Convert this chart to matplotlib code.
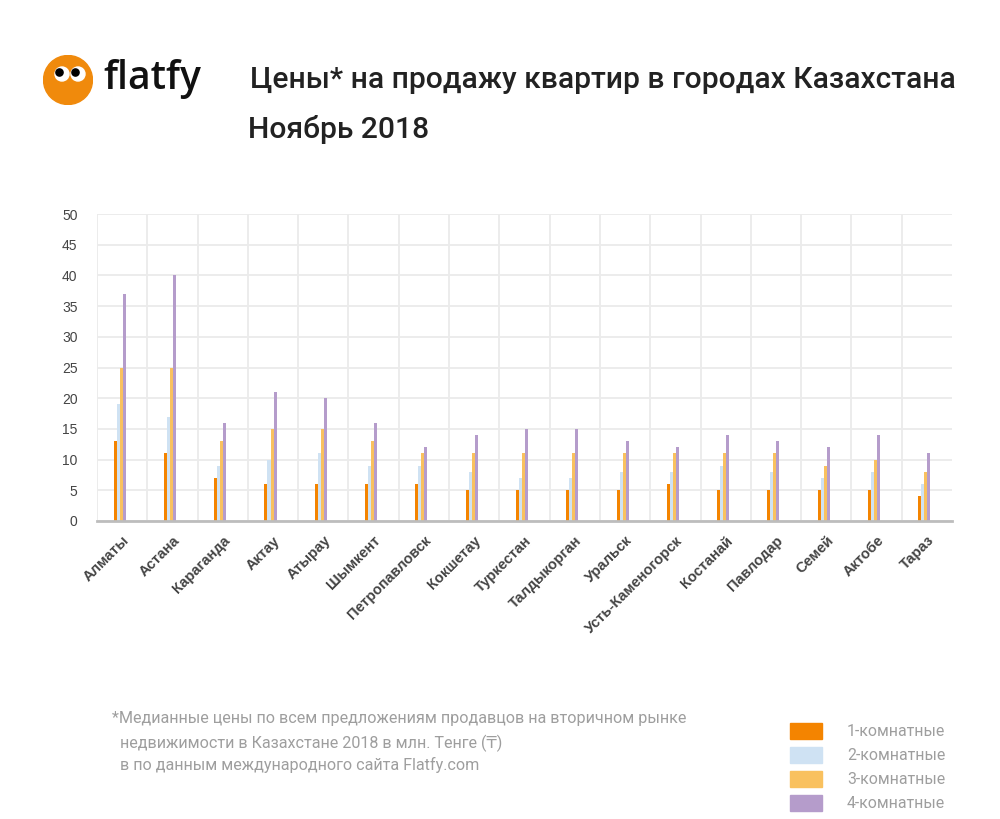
import numpy as np
import matplotlib
matplotlib.use("Agg")
import matplotlib.pyplot as plt
from matplotlib.patches import Circle, Rectangle

cities = ["Алматы", "Астана", "Караганда", "Актау", "Атырау", "Шымкент",
          "Петропавловск", "Кокшетау", "Туркестан", "Талдыкорган", "Уральск",
          "Усть-Каменогорск", "Костанай", "Павлодар", "Семей", "Актобе", "Тараз"]
room1 = [13, 11, 7, 6, 6, 6, 6, 5, 5, 5, 5, 6, 5, 5, 5, 5, 4]
room2 = [19, 17, 9, 10, 11, 9, 9, 8, 7, 7, 8, 8, 9, 8, 7, 8, 6]
room3 = [25, 25, 13, 15, 15, 13, 11, 11, 11, 11, 11, 11, 11, 11, 9, 10, 8]
room4 = [37, 40, 16, 21, 20, 16, 12, 14, 15, 15, 13, 12, 14, 13, 12, 14, 11]
series_names = ["1-комнатные", "2-комнатные", "3-комнатные", "4-комнатные"]
yticks = [0, 5, 10, 15, 20, 25, 30, 35, 40, 45, 50]

colors = ["#f48400", "#cfe2f3", "#f9c15f", "#b59ccb"]
gray_text = "#9e9e9e"

W, H = 1000, 819
fig = plt.figure(figsize=(W / 100, H / 100), dpi=100)

def fx(px):
    return px / W

def fy(py):
    return 1 - py / H

# main chart
ax = fig.add_axes([fx(97), fy(521), fx(952) - fx(97), fy(214) - fy(521)])
x = np.arange(len(cities))
w = 0.06
shift = -0.05
for i, (vals, c) in enumerate(zip([room1, room2, room3, room4], colors)):
    ax.bar(x + shift + (i - 1.5) * w, vals, width=w, color=c, linewidth=0, zorder=3)

ax.set_xlim(-0.5, len(cities) - 0.5)
ax.set_ylim(0, 50)
ax.set_yticks(yticks)
ax.set_yticklabels([str(v) for v in yticks], fontsize=10, color="#444444",
                   family="Liberation Sans")
ax.set_xticks(x)
ax.set_xticklabels(cities, rotation=45, ha="right", rotation_mode="anchor",
                   fontsize=10.5, fontweight="bold", color="#444444",
                   family="Liberation Sans")
ax.set_xticks(np.arange(-0.5, len(cities) - 1), minor=True)
ax.tick_params(axis="both", which="both", length=0)
ax.tick_params(axis="y", pad=14)
ax.tick_params(axis="x", pad=9)
ax.grid(axis="y", which="major", color="#ebebeb", lw=1.3, zorder=0)
ax.grid(axis="x", which="minor", color="#ebebeb", lw=1.3, zorder=0)
for s in ["top", "right", "left"]:
    ax.spines[s].set_visible(False)
ax.spines["bottom"].set_color("#bdbdbd")
ax.spines["bottom"].set_linewidth(2)
ax.spines["bottom"].set_zorder(4)

# logo
lax = fig.add_axes([fx(43), fy(105), 50 / W, 50 / H])
lax.set_xlim(0, 50)
lax.set_ylim(50, 0)
lax.axis("off")
lax.add_patch(Circle((25, 25), 24.5, color="#f08a0c"))
for ex, px in [(19, 16.5), (35, 32.5)]:
    lax.add_patch(Circle((ex, 19), 7, color="white"))
    lax.add_patch(Circle((px, 17.5), 3.6, color="black"))
fig.text(fx(103), fy(79), "flatfy", fontsize=28, color="#111111",
         family="Open Sans", fontweight="semibold", va="center", ha="left")

# titles
fig.text(fx(250), fy(80), "Цены* на продажу квартир в городах Казахстана",
         fontsize=21.6, color="#222222", family="Roboto", fontweight="medium",
         va="center", ha="left")
fig.text(fx(248), fy(130), "Ноябрь 2018", fontsize=21.6, color="#222222",
         family="Roboto", fontweight="medium", va="center", ha="left")

# footnote
notes = ["*Медианные цены по всем предложениям продавцов на вторичном рынке",
         "  недвижимости в Казахстане 2018 в млн. Тенге (₸)",
         "  в по данным международного сайта Flatfy.com"]
for line, yy in zip(notes, [719, 743, 765]):
    fig.text(fx(112), fy(yy), line, fontsize=11.6, color=gray_text,
             family=["Roboto", "DejaVu Sans"], va="center", ha="left")

# legend
for name, c, yy in zip(series_names, colors, [731, 755, 779, 803]):
    fig.patches.append(Rectangle((fx(790), fy(yy + 8)), 32 / W, 16 / H,
                                 transform=fig.transFigure, color=c))
    fig.text(fx(847), fy(yy), name, fontsize=11.4, color=gray_text,
             family="Roboto", va="center", ha="left")

fig.savefig("out.png", dpi=100, facecolor="white")
